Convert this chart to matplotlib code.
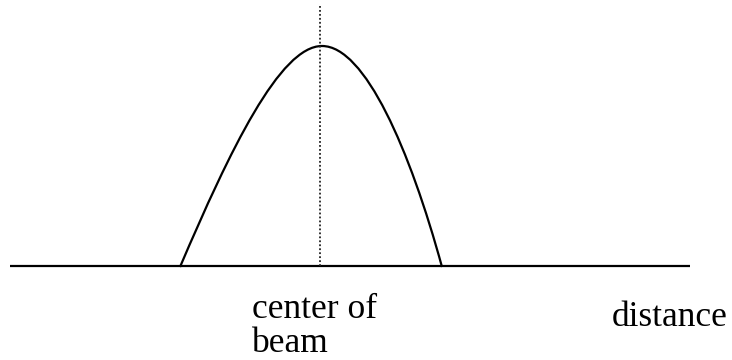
import matplotlib.pyplot as plt
from matplotlib.path import Path
from matplotlib.patches import PathPatch

# diagram in pixel coordinates (y grows downward)
baseline_x = [10, 690]
baseline_y = 266

# bezier control points for the beam profile (left half, right half)
left_x = [180, 230, 280, 322]
left_y = [267, 150, 46, 46]
right_x = [322, 365, 410, 442]
right_y = [46, 46, 150, 267]

center_x = 320
center_top = 6

labels = ["center of", "beam", "distance"]
label_xy = [(252, 318), (252, 352), (612, 326)]

fig = plt.figure(figsize=(7.32, 3.6), dpi=100)
ax = fig.add_axes([0, 0, 1, 1])
ax.set_xlim(0, 732)
ax.set_ylim(360, 0)
ax.axis("off")

ax.plot(baseline_x, [baseline_y, baseline_y], color="black", lw=1.6,
        solid_capstyle="butt")

verts = list(zip(left_x, left_y)) + list(zip(right_x[1:], right_y[1:]))
codes = [Path.MOVETO] + [Path.CURVE4] * 6
ax.add_patch(PathPatch(Path(verts, codes), facecolor="none",
                       edgecolor="black", lw=1.6))

ax.plot([center_x, center_x], [center_top, baseline_y], color="#222222",
        lw=1.3, linestyle=(0, (1, 1.2)))

for txt, (x, y) in zip(labels, label_xy):
    ax.text(x, y, txt, fontsize=25.5, family="Liberation Serif",
            ha="left", va="baseline")

fig.savefig("out.png", dpi=100)
